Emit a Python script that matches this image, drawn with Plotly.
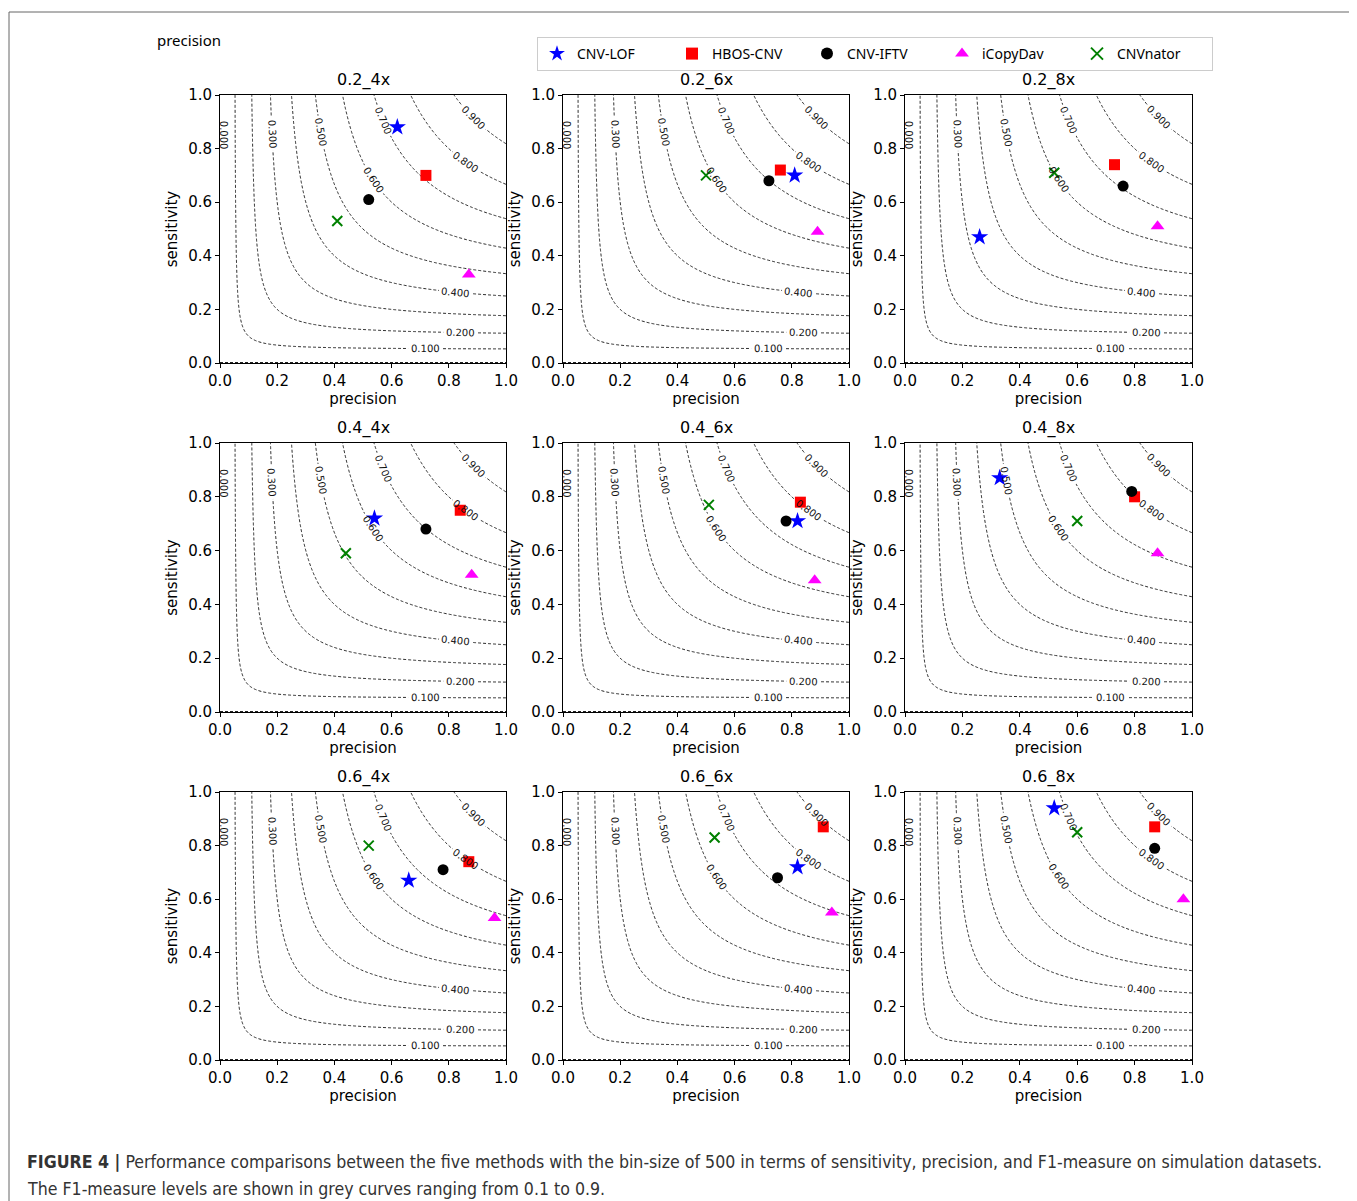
import numpy as np
import plotly.graph_objects as go
from plotly.subplots import make_subplots

# ---- data ----
panels = ["0.2_4x", "0.2_6x", "0.2_8x",
          "0.4_4x", "0.4_6x", "0.4_8x",
          "0.6_4x", "0.6_6x", "0.6_8x"]
methods = ["CNV-LOF", "HBOS-CNV", "CNV-IFTV", "iCopyDav", "CNVnator"]

lof_precision  = [0.62, 0.81, 0.26, 0.54, 0.82, 0.33, 0.66, 0.82, 0.52]
lof_sensitivity = [0.88, 0.70, 0.47, 0.72, 0.71, 0.87, 0.67, 0.72, 0.94]
hbos_precision  = [0.72, 0.76, 0.73, 0.84, 0.83, 0.80, 0.87, 0.91, 0.87]
hbos_sensitivity = [0.70, 0.72, 0.74, 0.75, 0.78, 0.80, 0.74, 0.87, 0.87]
iftv_precision  = [0.52, 0.72, 0.76, 0.72, 0.78, 0.79, 0.78, 0.75, 0.87]
iftv_sensitivity = [0.61, 0.68, 0.66, 0.68, 0.71, 0.82, 0.71, 0.68, 0.79]
icopy_precision  = [0.87, 0.89, 0.88, 0.88, 0.88, 0.88, 0.96, 0.94, 0.97]
icopy_sensitivity = [0.33, 0.49, 0.51, 0.51, 0.49, 0.59, 0.53, 0.55, 0.60]
nator_precision  = [0.41, 0.50, 0.52, 0.44, 0.51, 0.60, 0.52, 0.53, 0.60]
nator_sensitivity = [0.53, 0.70, 0.71, 0.59, 0.77, 0.71, 0.80, 0.83, 0.85]

tick_vals = [0.0, 0.2, 0.4, 0.6, 0.8, 1.0]
f1_levels = [0.1, 0.2, 0.3, 0.4, 0.5, 0.6, 0.7, 0.8, 0.9]

# where each contour label sits: ("s", v) -> at that sensitivity, ("p", v) -> at that precision
label_anchor = {
    0.1: ("p", 0.717), 0.2: ("p", 0.84), 0.3: ("s", 0.855), 0.4: ("p", 0.825),
    0.5: ("s", 0.86), 0.6: ("p", 0.535), 0.7: ("s", 0.905), 0.8: ("p", 0.86),
    0.9: ("p", 0.885),
}

series = [
    (methods[0], lof_precision, lof_sensitivity),
    (methods[1], hbos_precision, hbos_sensitivity),
    (methods[2], iftv_precision, iftv_sensitivity),
    (methods[3], icopy_precision, icopy_sensitivity),
    (methods[4], nator_precision, nator_sensitivity),
]
styles = {
    "CNV-LOF": dict(symbol="star", color="blue", size=13),
    "HBOS-CNV": dict(symbol="square", color="red", size=11),
    "CNV-IFTV": dict(symbol="circle", color="black", size=11),
    "iCopyDav": dict(symbol="triangle-up", color="magenta", size=12),
    "CNVnator": dict(symbol="x-thin", color="green", size=10),
}

W, H = 1357, 1201
OFF = 8  # the page body margin shifts the figure by this much
col_px = [(220, 506), (563, 849), (905, 1192)]
row_px = [(95, 363), (443, 712), (792, 1060)]


def px(xp):
    return (xp - OFF) / W


def py(yp):
    return 1 - (yp - OFF) / H


fig = make_subplots(rows=3, cols=3)

# F1 field grid
g = np.linspace(0, 1, 301)
P, S = np.meshgrid(g, g)
with np.errstate(invalid="ignore", divide="ignore"):
    F = np.where(P + S > 0, 2 * P * S / (P + S), 0.0)

lab_font = dict(size=10, color="#111", family="DejaVu Sans")

for i, name in enumerate(panels):
    r, c = i // 3 + 1, i % 3 + 1
    x0, x1 = col_px[c - 1]
    y0, y1 = row_px[r - 1]
    pw, ph = x1 - x0, y1 - y0
    fig.add_trace(go.Contour(
        x=g, y=g, z=F, showscale=False, hoverinfo="skip",
        autocontour=False,
        contours=dict(start=f1_levels[0], end=f1_levels[-1], size=0.1,
                      coloring="lines", showlabels=False),
        line=dict(color="#222", width=1, dash="3px,2px"),
        colorscale=[[0, "#222"], [1, "#222"]],
        showlegend=False,
    ), row=r, col=c)
    xref = "x" if i == 0 else f"x{i+1}"
    yref = "y" if i == 0 else f"y{i+1}"
    gx, gy = [], []
    labels = []
    for f in f1_levels:
        kind, v = label_anchor[f]
        if kind == "p":
            lp = v
            ls = f * lp / (2 * lp - f)
        else:
            ls = v
            lp = f * ls / (2 * ls - f)
        slope = (f * f) / (2 * lp - f) ** 2  # |ds/dp|
        th = np.arctan(slope * ph / pw)
        half = 17.0
        dxp = half * np.cos(th) / pw
        dyp = half * np.sin(th) / ph
        gx += [lp - dxp, lp + dxp, None]
        gy += [ls + dyp, ls - dyp, None]
        labels.append((lp, ls, float(np.degrees(th)), f))
    # white gaps in the curves where the labels sit (matplotlib inline labels)
    fig.add_trace(go.Scatter(x=gx, y=gy, mode="lines", hoverinfo="skip",
                             line=dict(color="white", width=6), showlegend=False),
                  row=r, col=c)
    # F1 = 0 level runs along the bottom edge
    fig.add_trace(go.Scatter(x=[tick_vals[0], tick_vals[-1]], y=[tick_vals[0], tick_vals[0]],
                             mode="lines", hoverinfo="skip", cliponaxis=False,
                             line=dict(color="#222", width=2, dash="3px,2px"),
                             showlegend=False), row=r, col=c)
    for lp, ls, ang, f in labels:
        fig.add_annotation(x=lp, y=ls, xref=xref, yref=yref,
                           text=f"{f:.3f}", showarrow=False, textangle=ang,
                           font=lab_font)
    fig.add_annotation(x=0.012, y=0.85, xref=xref, yref=yref,
                       text=f"{0:.3f}", showarrow=False, textangle=90, font=lab_font)

    for mname, pxv, syv in series:
        st = styles[mname]
        if st["symbol"] == "x-thin":
            marker = dict(symbol="x-thin", size=st["size"],
                          line=dict(color=st["color"], width=2), color=st["color"])
        else:
            marker = dict(symbol=st["symbol"], size=st["size"], color=st["color"],
                          line=dict(width=0))
        fig.add_trace(go.Scatter(
            x=[pxv[i]], y=[syv[i]], mode="markers", name=mname,
            marker=marker, legendgroup=mname, showlegend=(i == 0),
        ), row=r, col=c)

    xa = "xaxis" if i == 0 else f"xaxis{i+1}"
    ya = "yaxis" if i == 0 else f"yaxis{i+1}"
    fig.layout[xa].update(
        domain=[px(x0), px(x1)], range=[0, 1], tickvals=tick_vals,
        tickformat=".1f", showline=True, linecolor="black", linewidth=1,
        mirror=True, ticks="outside", ticklen=4, tickcolor="black",
        showgrid=False, zeroline=False, automargin=False,
        tickfont=dict(size=15, family="DejaVu Sans", color="black"),
        title=dict(text="precision", standoff=4,
                   font=dict(size=15, family="DejaVu Sans", color="black")),
    )
    fig.layout[ya].update(
        domain=[py(y1), py(y0)], range=[0, 1], tickvals=tick_vals,
        tickformat=".1f", showline=True, linecolor="black", linewidth=1,
        mirror=True, ticks="outside", ticklen=4, tickcolor="black",
        showgrid=False, zeroline=False, automargin=False,
        tickfont=dict(size=15, family="DejaVu Sans", color="black"),
        title=dict(text="sensitivity", standoff=6,
                   font=dict(size=15, family="DejaVu Sans", color="black")),
    )
    fig.add_annotation(
        x=(px(x0) + px(x1)) / 2, y=py(y0 - 3), xref="paper", yref="paper",
        text=name, showarrow=False, xanchor="center", yanchor="bottom",
        font=dict(size=16, family="DejaVu Sans", color="black"),
    )

# stray label at top-left
fig.add_annotation(x=px(155), y=py(40), xref="paper", yref="paper",
                   text="precision", showarrow=False, xanchor="left", yanchor="middle",
                   font=dict(size=15, family="Noto Sans", color="black"))

cap_font = dict(size=17.6, family="Liberation Sans Narrow, DejaVu Sans Condensed, sans-serif",
                color="#333")
fig.add_annotation(x=px(25), y=py(1162), xref="paper", yref="paper",
                   text="<b>FIGURE 4 |</b> Performance comparisons between the five methods with the bin-size of 500 in terms of sensitivity, precision, and F1-measure on simulation datasets.",
                   showarrow=False, xanchor="left", yanchor="middle", font=cap_font)
fig.add_annotation(x=px(25), y=py(1189), xref="paper", yref="paper",
                   text="The F1-measure levels are shown in grey curves ranging from 0.1 to 0.9.",
                   showarrow=False, xanchor="left", yanchor="middle", font=cap_font)

# outer frame
fig.add_shape(type="rect", xref="paper", yref="paper",
              x0=px(9), x1=px(1350), y0=0, y1=py(12),
              line=dict(color="#666", width=1), fillcolor="rgba(0,0,0,0)")

fig.update_layout(
    width=W, height=H, margin=dict(l=0, r=0, t=0, b=0, pad=0, autoexpand=False),
    paper_bgcolor="white", plot_bgcolor="white",
    legend=dict(orientation="h", x=px(537), y=py(37), xanchor="left", yanchor="top",
                bordercolor="#ccc", borderwidth=1, bgcolor="white",
                entrywidth=90, entrywidthmode="pixels",
                font=dict(size=14, family="Noto Sans", color="black"),
                itemsizing="constant"),
)

fig.write_html("out.html")
